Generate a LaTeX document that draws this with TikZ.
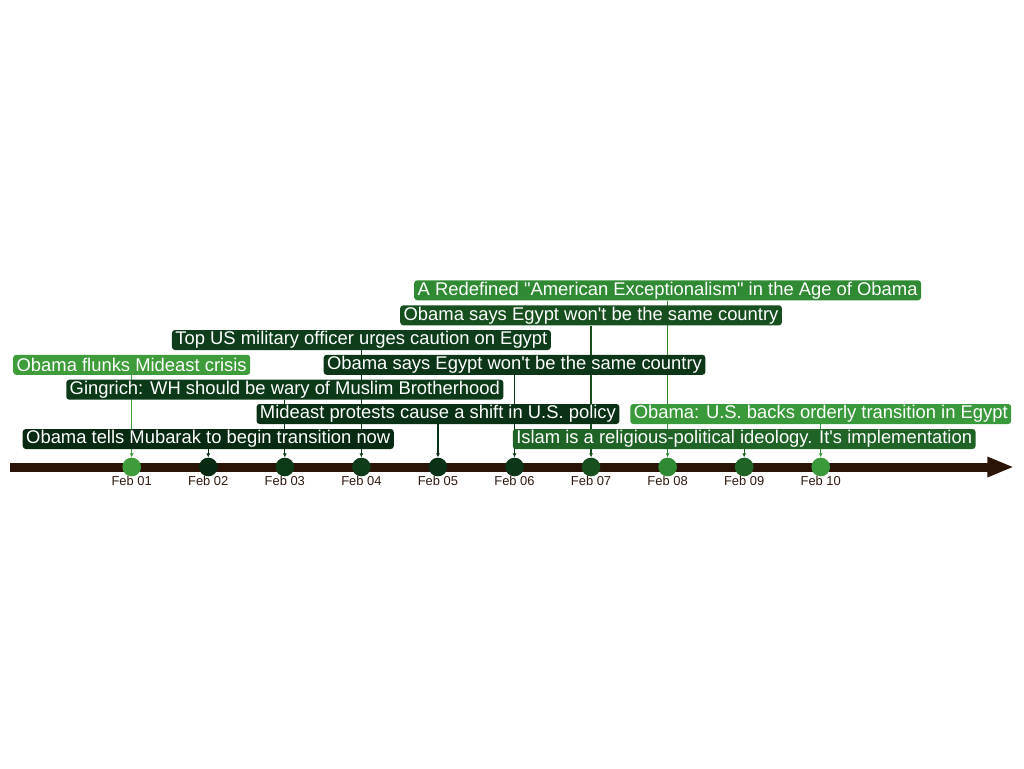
\documentclass[tikz,border=0pt]{standalone}
\usepackage{fontspec}
\usepackage{tikz}
\usepackage{xcolor}
\usetikzlibrary{arrows.meta,backgrounds}
\newfontfamily\evfont{Liberation Sans}

\definecolor{axisbrown}{HTML}{2A1408}
\definecolor{datebrown}{HTML}{2E1A10}
\definecolor{cday1}{HTML}{3F9C3A}
\definecolor{cday2}{HTML}{082A12}
\definecolor{cday3}{HTML}{0C3A19}
\definecolor{cday4}{HTML}{0F3D1B}
\definecolor{cday5}{HTML}{0A3015}
\definecolor{cday6}{HTML}{0C3617}
\definecolor{cday7}{HTML}{184F1F}
\definecolor{cday8}{HTML}{2F8A33}
\definecolor{cday9}{HTML}{1F6326}
\definecolor{cday10}{HTML}{3A993A}

\tikzset{
  evbox/.style={rounded corners=2.25pt, inner xsep=2.6pt, inner ysep=0pt,
    minimum height=15pt, text=white, font=\evfont\fontsize{13.8pt}{16pt}\selectfont},
  daydot/.style={circle, inner sep=0pt, minimum size=14pt},
  datelbl/.style={text=datebrown, inner sep=0pt, font=\evfont\fontsize{9.7pt}{11pt}\selectfont},
  evlink/.style={line width=0.9pt, -{Latex[length=3pt,width=3pt]}},
  timeaxis/.style={axisbrown, line width=6.75pt, -{Triangle[length=20pt,width=14pt]}}
}

\begin{document}
\begin{tikzpicture}[x=0.75pt,y=0.75pt,yscale=-1,xscale=1]
\useasboundingbox (0,0) rectangle (1024,768);

% time axis
\coordinate (axstart) at (10,467);
\coordinate (axend) at (1014,467);
\draw[timeaxis] (axstart) -- (axend);

% day dots and dates
\foreach \d/\lbl in {1/01,2/02,3/03,4/04,5/05,6/06,7/07,8/08,9/09,10/10}{
  \node[daydot, fill=cday\d] (d\d) at ({131.7+76.56*(\d-1)},467) {};
  \node[datelbl] (t\d) at ({131.7+76.56*(\d-1)},480.5) {Feb \lbl};
}

% events, each centred above its day
\foreach \d/\y/\txt in {
  8/290.3/{A Redefined "American Exceptionalism" in the Age of Obama},
  7/315.3/{Obama says Egypt won't be the same country},
  4/340/{Top US military officer urges caution on Egypt},
  1/364.8/{Obama flunks Mideast crisis},
  6/364.8/{Obama says Egypt won't be the same country},
  3/389.7/{Gingrich: WH should be wary of Muslim Brotherhood},
  5/414/{Mideast protests cause a shift in U.S. policy},
  10/414/{Obama: U.S. backs orderly transition in Egypt},
  2/439/{Obama tells Mubarak to begin transition now},
  9/439/{Islam is a religious-political ideology. It's implementation}}{
  \node[evbox, fill=cday\d] (e\d) at ({131.7+76.56*(\d-1)},\y) {\txt};
}

% links behind the boxes
\begin{scope}[on background layer]
\foreach \d in {1,...,10}{
  \draw[evlink, cday\d] (e\d.south) -- (d\d.north);
}
\end{scope}

\end{tikzpicture}
\end{document}
